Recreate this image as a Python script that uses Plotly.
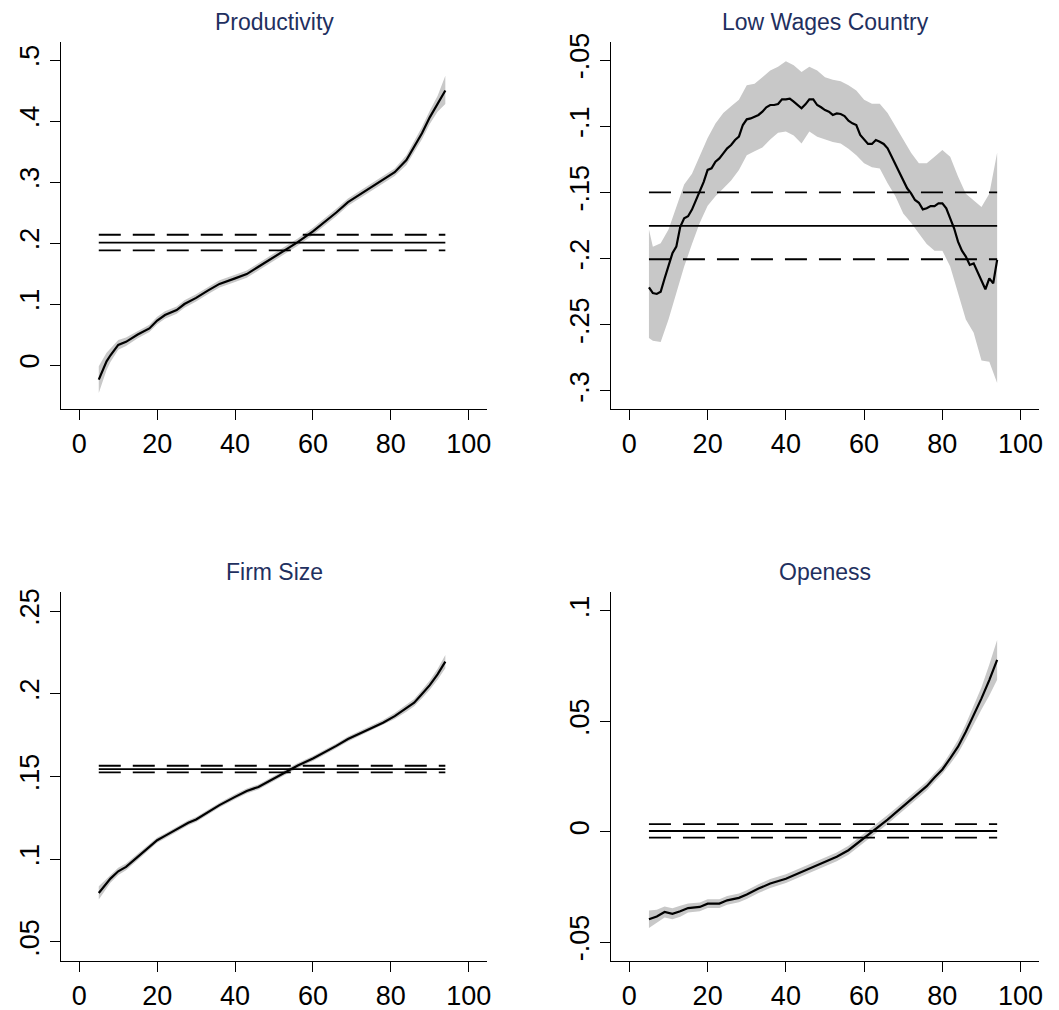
import plotly.graph_objects as go

# ---------------- data ----------------
titles = ["Productivity", "Low Wages Country", "Firm Size", "Openess"]

# Productivity
q1 = [5, 7, 8, 10, 12, 15, 18, 20, 22, 25, 27, 30, 33, 36, 40, 43, 46, 50, 53, 56,
      60, 63, 66, 69, 72, 75, 78, 81, 84, 86, 88, 90, 92, 94]
coef1 = [-0.024, 0.006, 0.016, 0.033, 0.038, 0.050, 0.060, 0.073, 0.082, 0.090, 0.100,
         0.110, 0.122, 0.133, 0.142, 0.149, 0.161, 0.177, 0.189, 0.201, 0.219, 0.234,
         0.250, 0.267, 0.279, 0.292, 0.303, 0.316, 0.336, 0.358, 0.380, 0.406, 0.428, 0.450]
lo1 = [-0.046, -0.008, 0.005, 0.025, 0.031, 0.044, 0.054, 0.067, 0.076, 0.084, 0.094,
       0.104, 0.116, 0.127, 0.136, 0.143, 0.155, 0.171, 0.183, 0.195, 0.213, 0.228,
       0.244, 0.261, 0.273, 0.286, 0.297, 0.310, 0.328, 0.349, 0.370, 0.395, 0.415, 0.428]
hi1 = [-0.002, 0.020, 0.027, 0.041, 0.045, 0.056, 0.066, 0.079, 0.088, 0.096, 0.106,
       0.116, 0.128, 0.139, 0.148, 0.155, 0.167, 0.183, 0.195, 0.207, 0.225, 0.240,
       0.256, 0.273, 0.285, 0.298, 0.309, 0.322, 0.344, 0.367, 0.390, 0.417, 0.441, 0.474]
ols1 = [0.2005, 0.188, 0.2135]  # coef, lower, upper

# Low Wages Country
q2 = list(range(5, 95))
coef2 = [-0.2217, -0.226, -0.2267, -0.225, -0.215, -0.206, -0.196, -0.191, -0.176, -0.1696,
         -0.168, -0.163, -0.1557, -0.1494, -0.142, -0.133, -0.1318, -0.1268, -0.1243, -0.1205,
         -0.1167, -0.1142, -0.1104, -0.1079, -0.0991, -0.0948, -0.0941, -0.0928, -0.0915, -0.089,
         -0.0857, -0.084, -0.084, -0.0832, -0.0797, -0.0797, -0.0792, -0.0815, -0.084, -0.0865,
         -0.0835, -0.0797, -0.0797, -0.084, -0.0857, -0.0878, -0.089, -0.0915, -0.0903, -0.0908,
         -0.0923, -0.0958, -0.0978, -0.0991, -0.1066, -0.1104, -0.1134, -0.1134, -0.1104, -0.1117,
         -0.1134, -0.1167, -0.123, -0.128, -0.1343, -0.1419, -0.1469, -0.1507, -0.1557, -0.1578,
         -0.1628, -0.162, -0.1603, -0.1603, -0.1583, -0.1583, -0.162, -0.1696, -0.1771, -0.1872,
         -0.194, -0.1985, -0.2048, -0.2036, -0.2099, -0.2174, -0.2232, -0.2149, -0.2187, -0.201]
q2b = [5, 6, 8, 10, 12, 14, 16, 18, 20, 22, 24, 26, 28, 30, 32, 34, 36, 38, 40, 42, 44, 46,
       48, 50, 52, 54, 56, 58, 60, 62, 64, 66, 68, 70, 72, 74, 76, 78, 80, 82, 84, 86, 88,
       90, 92, 94]
hi2 = [-0.178, -0.191, -0.1885, -0.178, -0.161, -0.144, -0.136, -0.123, -0.109, -0.098,
       -0.090, -0.085, -0.080, -0.069, -0.068, -0.063, -0.058, -0.055, -0.051, -0.054,
       -0.059, -0.055, -0.058, -0.063, -0.065, -0.066, -0.069, -0.073, -0.080, -0.083,
       -0.083, -0.090, -0.100, -0.110, -0.120, -0.128, -0.128, -0.123, -0.118, -0.123,
       -0.138, -0.151, -0.156, -0.161, -0.151, -0.120]
lo2 = [-0.260, -0.262, -0.263, -0.246, -0.226, -0.206, -0.189, -0.173, -0.160, -0.153,
       -0.147, -0.141, -0.133, -0.122, -0.119, -0.116, -0.110, -0.105, -0.104, -0.107,
       -0.113, -0.104, -0.108, -0.110, -0.112, -0.113, -0.117, -0.122, -0.128, -0.131,
       -0.132, -0.143, -0.153, -0.166, -0.173, -0.181, -0.189, -0.194, -0.194, -0.206,
       -0.226, -0.246, -0.256, -0.277, -0.278, -0.294]
ols2 = [-0.1753, -0.2005, -0.150]

# Firm Size
q3 = [5, 7, 8, 10, 12, 15, 18, 20, 22, 25, 28, 30, 33, 36, 40, 43, 46, 50, 53, 56,
      60, 63, 66, 69, 72, 75, 78, 81, 84, 86, 88, 90, 92, 94]
coef3 = [0.0796, 0.0853, 0.0883, 0.0927, 0.0954, 0.1014, 0.1075, 0.1115, 0.1141, 0.1179,
         0.1220, 0.1240, 0.1286, 0.1327, 0.1377, 0.1413, 0.1437, 0.1488, 0.1524, 0.1565,
         0.1609, 0.1645, 0.1685, 0.1726, 0.1760, 0.1790, 0.1825, 0.1865, 0.1911, 0.1946,
         0.1998, 0.2052, 0.2117, 0.2194]
lo3 = [0.0756, 0.0823, 0.0858, 0.0905, 0.0934, 0.0996, 0.1058, 0.1099, 0.1126, 0.1164,
       0.1205, 0.1225, 0.1271, 0.1312, 0.1362, 0.1398, 0.1422, 0.1473, 0.1509, 0.1550,
       0.1594, 0.1630, 0.1670, 0.1711, 0.1745, 0.1774, 0.1808, 0.1847, 0.1891, 0.1924,
       0.1973, 0.2024, 0.2085, 0.2154]
hi3 = [0.0836, 0.0883, 0.0908, 0.0949, 0.0974, 0.1032, 0.1092, 0.1131, 0.1156, 0.1194,
       0.1235, 0.1255, 0.1301, 0.1342, 0.1392, 0.1428, 0.1452, 0.1503, 0.1539, 0.1580,
       0.1624, 0.1660, 0.1700, 0.1741, 0.1775, 0.1806, 0.1842, 0.1883, 0.1931, 0.1968,
       0.2023, 0.2080, 0.2149, 0.2234]
ols3 = [0.1545, 0.1525, 0.1565]

# Openess
q4 = [5, 7, 9, 11, 13, 15, 18, 20, 23, 25, 28, 30, 33, 36, 40, 43, 46, 50, 53, 56, 58,
      60, 62, 64, 66, 68, 70, 72, 74, 76, 78, 80, 82, 84, 86, 88, 90, 92, 94]
coef4 = [-0.0397, -0.0384, -0.0364, -0.0372, -0.0361, -0.0346, -0.0341, -0.0326, -0.0326,
         -0.0311, -0.0300, -0.0285, -0.0258, -0.0235, -0.0213, -0.0190, -0.0167, -0.0137,
         -0.0114, -0.0084, -0.0057, -0.0028, 0.0000, 0.0025, 0.0055, 0.0085, 0.0115, 0.0146,
         0.0176, 0.0206, 0.0245, 0.0282, 0.0332, 0.0385, 0.0453, 0.0528, 0.0604, 0.0687, 0.0778]
lo4 = [-0.0437, -0.0414, -0.0389, -0.0397, -0.0386, -0.0366, -0.0361, -0.0346, -0.0346,
       -0.0331, -0.0320, -0.0305, -0.0278, -0.0255, -0.0233, -0.0210, -0.0187, -0.0157,
       -0.0134, -0.0104, -0.0077, -0.0048, -0.0020, 0.0005, 0.0035, 0.0065, 0.0095, 0.0126,
       0.0156, 0.0186, 0.0225, 0.0262, 0.0307, 0.0355, 0.0418, 0.0488, 0.0554, 0.0617, 0.0688]
hi4 = [-0.0357, -0.0354, -0.0339, -0.0347, -0.0336, -0.0326, -0.0321, -0.0306, -0.0306,
       -0.0291, -0.0280, -0.0265, -0.0238, -0.0215, -0.0193, -0.0170, -0.0147, -0.0117,
       -0.0094, -0.0064, -0.0037, -0.0008, 0.0020, 0.0045, 0.0075, 0.0105, 0.0135, 0.0166,
       0.0196, 0.0226, 0.0265, 0.0302, 0.0357, 0.0415, 0.0488, 0.0568, 0.0654, 0.0757, 0.0868]
ols4 = [0.0003, -0.0027, 0.0034]

x_ticks = [0, 20, 40, 60, 80, 100]
y_tickvals = [
    [0, 0.1, 0.2, 0.3, 0.4, 0.5],
    [-0.3, -0.25, -0.2, -0.15, -0.1, -0.05],
    [0.05, 0.1, 0.15, 0.2, 0.25],
    [-0.05, 0, 0.05, 0.1],
]
y_ticktext = [
    ["0", ".1", ".2", ".3", ".4", ".5"],
    ["-.3", "-.25", "-.2", "-.15", "-.1", "-.05"],
    [".05", ".1", ".15", ".2", ".25"],
    ["-.05", "0", ".05", ".1"],
]

# ---------------- layout geometry ----------------
W, H = 1059, 1010
x_range = [-4.7, 104.7]
y_ranges = [[-0.0721, 0.5295], [-0.3136, -0.0364], [0.0385, 0.2615], [-0.0586, 0.1086]]
x_domains = [[61 / W, 487 / W], [611 / W, 1039 / W], [61 / W, 487 / W], [611 / W, 1039 / W]]
y_domains = [[1 - 409 / H, 1 - 42 / H], [1 - 409 / H, 1 - 42 / H],
             [1 - 961 / H, 1 - 592 / H], [1 - 961 / H, 1 - 592 / H]]
title_y = [1 - 22 / H, 1 - 22 / H, 1 - 572 / H, 1 - 572 / H]

BAND = "rgb(200,200,200)"
DASH = "22px,12px"

panels = [
    (q1, coef1, q1, lo1, hi1, ols1),
    (q2, coef2, q2b, lo2, hi2, ols2),
    (q3, coef3, q3, lo3, hi3, ols3),
    (q4, coef4, q4, lo4, hi4, ols4),
]

fig = go.Figure()
layout = dict(
    width=W, height=H, margin=dict(l=0, r=0, t=0, b=0), autosize=False,
    paper_bgcolor="white", plot_bgcolor="white", showlegend=False,
    font=dict(family="Liberation Sans, Arial, sans-serif", color="black"),
)
annotations = []

for i, (qx, cf, qb, lo, hi, ols) in enumerate(panels):
    n = i + 1
    xa = "x" if n == 1 else f"x{n}"
    ya = "y" if n == 1 else f"y{n}"
    # CI band
    fig.add_trace(go.Scatter(x=qb, y=lo, mode="lines", line=dict(width=0, color=BAND),
                             xaxis=xa, yaxis=ya, hoverinfo="skip"))
    fig.add_trace(go.Scatter(x=qb, y=hi, mode="lines", line=dict(width=0, color=BAND),
                             fill="tonexty", fillcolor=BAND, xaxis=xa, yaxis=ya,
                             hoverinfo="skip"))
    # OLS coefficient and CI
    xs = [qx[0], qx[-1]]
    fig.add_trace(go.Scatter(x=xs, y=[ols[0], ols[0]], mode="lines",
                             line=dict(color="black", width=1.8), xaxis=xa, yaxis=ya))
    for v in ols[1:]:
        fig.add_trace(go.Scatter(x=xs, y=[v, v], mode="lines",
                                 line=dict(color="black", width=1.8, dash=DASH),
                                 xaxis=xa, yaxis=ya))
    # quantile coefficient curve
    fig.add_trace(go.Scatter(x=qx, y=cf, mode="lines", line=dict(color="black", width=2.2),
                             xaxis=xa, yaxis=ya))

    key_x = "xaxis" if n == 1 else f"xaxis{n}"
    key_y = "yaxis" if n == 1 else f"yaxis{n}"
    layout[key_x] = dict(
        domain=x_domains[i], range=x_range, anchor=ya, showgrid=False, zeroline=False,
        showline=True, linecolor="black", linewidth=1.4, ticks="outside", ticklen=10,
        tickwidth=1.4, tickcolor="black", tickvals=x_ticks, automargin=False,
        ticktext=[str(t) for t in x_ticks], tickfont=dict(size=27, color="black"),
    )
    layout[key_y] = dict(
        domain=y_domains[i], range=y_ranges[i], anchor=xa, showgrid=False, zeroline=False,
        showline=True, linecolor="black", linewidth=1.4, ticks="outside", ticklen=10,
        tickwidth=1.4, tickcolor="black", tickvals=y_tickvals[i], ticktext=y_ticktext[i],
        tickangle=-90, tickfont=dict(size=27, color="black"), automargin=False,
    )
    annotations.append(dict(
        text=titles[i], xref="paper", yref="paper",
        x=(x_domains[i][0] + x_domains[i][1]) / 2, y=title_y[i],
        xanchor="center", yanchor="middle", showarrow=False,
        font=dict(size=23, color="#1f3060"),
    ))

layout["annotations"] = annotations
fig.update_layout(**layout)
fig.write_html(
    "out.html",
    config={"displayModeBar": False},
    post_script="document.body.style.margin='0';document.body.style.overflow='hidden';",
)
